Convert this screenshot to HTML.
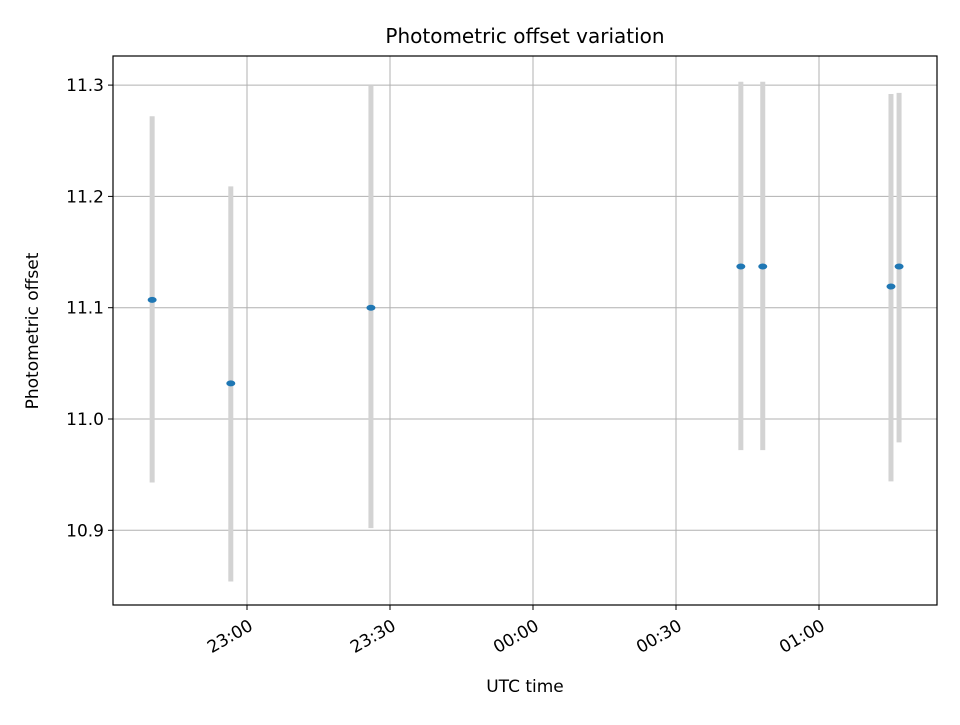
<!DOCTYPE html>
<html><head><meta charset="utf-8"><style>
body{margin:0;background:#fff;}
svg text{font-family:"DejaVu Sans","Liberation Sans",sans-serif;fill:#000;}
</style></head><body>
<svg id="chart" width="960" height="720" xmlns="http://www.w3.org/2000/svg">
<rect width="960" height="720" fill="#fff"/>
<text x="525" y="43" style="font-size:20px" text-anchor="middle">Photometric offset variation</text>
<g id="grid"></g>
<g id="marks"></g>
<rect x="113" y="56" width="824" height="549" fill="none" stroke="#000" stroke-width="1.2"/>
<g id="axes"></g>
<text x="525" y="692" style="font-size:17px" text-anchor="middle">UTC time</text>
<text transform="translate(38,331) rotate(-90)" style="font-size:17px" text-anchor="middle">Photometric offset</text>
</svg>
<script>
// times in minutes after 22:00
const times = [40.1, 56.6, 86.0, 163.6, 168.2, 195.1, 196.8];
const values = [11.107, 11.032, 11.100, 11.137, 11.137, 11.119, 11.137];
const errTop = [11.272, 11.209, 11.300, 11.303, 11.303, 11.292, 11.293];
const errBottom = [10.943, 10.854, 10.902, 10.972, 10.972, 10.944, 10.979];
const xTicks = [60, 90, 120, 150, 180];
const xTickLabels = ["23:00", "23:30", "00:00", "00:30", "01:00"];
const yTicks = [10.9, 11.0, 11.1, 11.2, 11.3];
const yTickLabels = ["10.9", "11.0", "11.1", "11.2", "11.3"];

const NS = "http://www.w3.org/2000/svg";
const L = 113, R = 937, T = 56, B = 605;
const xScale = m => 247 + (m - 60) * (143 / 30);
const yScale = v => 419 - (v - 11.0) * 1113;
function mk(tag, attrs, parent) {
  const e = document.createElementNS(NS, tag);
  for (const k in attrs) e.setAttribute(k, attrs[k]);
  parent.appendChild(e);
  return e;
}
const grid = document.getElementById('grid'), axes = document.getElementById('axes'), marks = document.getElementById('marks');
xTicks.forEach((t, i) => {
  const x = xScale(t);
  const g = mk('line', {x1: x, x2: x, y1: T, y2: B, stroke: '#b0b0b0', 'stroke-width': 1}, grid);
  
  
  const tk = mk('line', {x1: x, x2: x, y1: B, y2: B + 5, stroke: '#000', 'stroke-width': 1}, axes);
  
  
  const tx = mk('text', {transform: `translate(${x + 7},${B + 24}) rotate(-30)`, style: 'font-size:17px', 'text-anchor': 'end'}, axes);
  tx.textContent = xTickLabels[i];
  
  
});
yTicks.forEach((t, i) => {
  const y = yScale(t);
  const g = mk('line', {x1: L, x2: R, y1: y, y2: y, stroke: '#b0b0b0', 'stroke-width': 1}, grid);
  
  
  const tk = mk('line', {x1: L - 5, x2: L, y1: y, y2: y, stroke: '#000', 'stroke-width': 1}, axes);
  
  
  const tx = mk('text', {x: L - 9, y: y + 6, style: 'font-size:17px', 'text-anchor': 'end'}, axes);
  tx.textContent = yTickLabels[i];
  
  
});
times.forEach((t, i) => {
  const x = xScale(t);
  const eb = mk('line', {x1: x, x2: x, y1: yScale(errTop[i]), y2: yScale(errBottom[i]), stroke: '#d3d3d3', 'stroke-width': 5}, marks);
  
  
  const p = mk('ellipse', {cx: x, cy: yScale(values[i]), rx: 4.5, ry: 3, fill: '#1f77b4'}, marks);
  
  
});
</script>
</body></html>
